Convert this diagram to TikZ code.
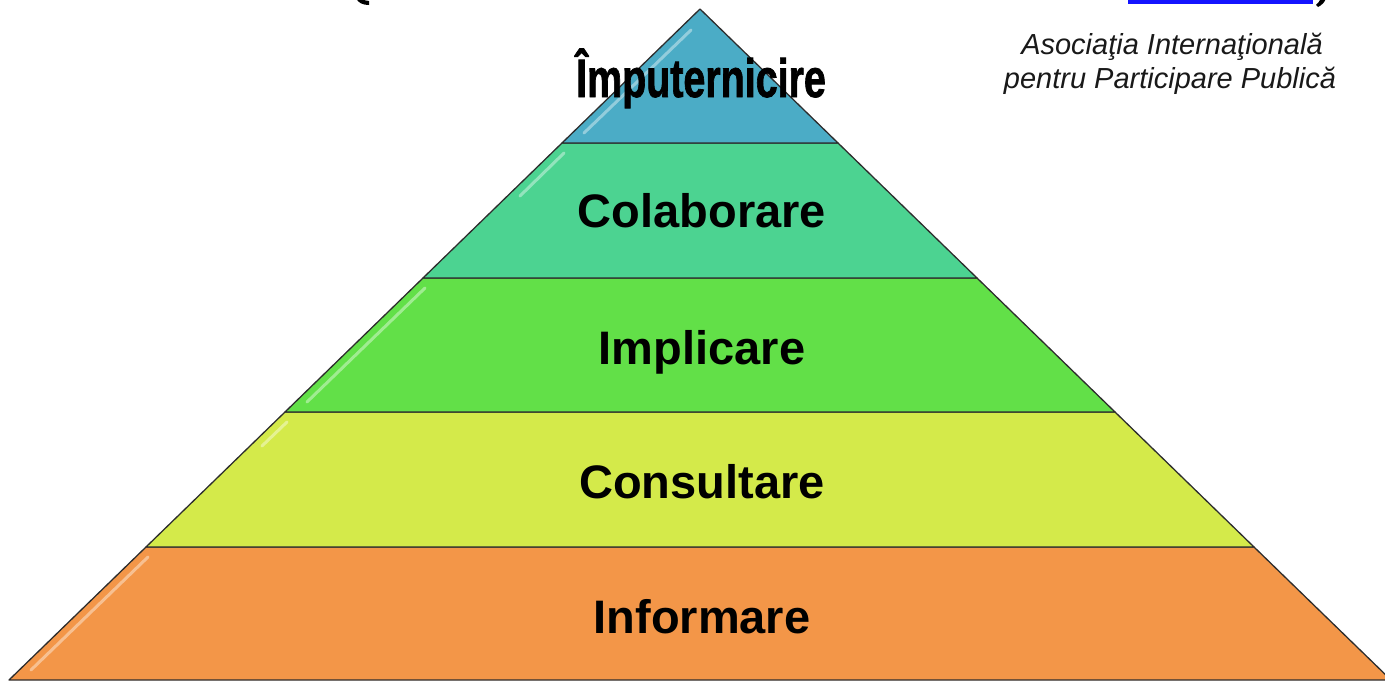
\documentclass[tikz,border=0pt]{standalone}
\usepackage{fontspec}
\setmainfont{Liberation Sans}
\newfontfamily\heavyfont{Liberation Sans}[BoldFeatures={FakeBold=1.6}]
\definecolor{cTop}{RGB}{75,172,198}
\definecolor{cCol}{RGB}{76,211,145}
\definecolor{cImp}{RGB}{98,224,72}
\definecolor{cCon}{RGB}{212,234,74}
\definecolor{cInf}{RGB}{243,150,72}
\definecolor{edgec}{RGB}{45,45,45}
\definecolor{linkblue}{RGB}{20,20,255}
\tikzset{
  tier/.style={draw=edgec, line width=1.3pt, line join=round},
  lbl/.style={font=\fontsize{47}{50}\selectfont\bfseries, anchor=base, inner sep=0pt},
  gloss/.style={white, opacity=0.4, line width=3pt, line cap=round},
  note/.style={font=\fontsize{29}{34}\selectfont\itshape, anchor=base, inner sep=0pt, text=black!90},
  fragmark/.style={fill=black},
}
\begin{document}
\begin{tikzpicture}[x=1pt,y=-1pt]
\useasboundingbox (0,0) rectangle (1385,683);
\clip (0,0) rectangle (1385,683);
% cut-off fragments of a title above the picture
\fill[linkblue] (1128,0) rectangle (1313,3.5);
\fill[fragmark] (356,-2) .. controls (358,3) and (363,5) .. (369,5) -- (369,1) .. controls (366,1) and (363,0) .. (362,-2) -- cycle;
\fill[fragmark] (1318,7) .. controls (1322,5) and (1325,2) .. (1326,-2) -- (1321,-2) .. controls (1320,1) and (1318,3) .. (1316,5) -- cycle;
% tiers
\path[tier, fill=cInf] (146,547) -- (1254,547) -- (1391,680) -- (9,680) -- cycle;
\path[tier, fill=cCon] (285,412) -- (1115,412) -- (1254,547) -- (146,547) -- cycle;
\path[tier, fill=cImp] (423,278) -- (977,278) -- (1115,412) -- (285,412) -- cycle;
\path[tier, fill=cCol] (562,143) -- (838,143) -- (977,278) -- (423,278) -- cycle;
\path[tier, fill=cTop] (700,9) -- (838,143) -- (562,143) -- cycle;
% glossy highlights
\draw[gloss] (691,30) -- (584,133);
\draw[gloss] (564,153) -- (520,196);
\draw[gloss] (425,288) -- (307,402);
\draw[gloss] (287,422) -- (262,446);
\draw[gloss] (148,557) -- (31,670);
% labels
\node[lbl] (imp) at (701,97) {\scalebox{0.73}[1]{\heavyfont\fontsize{54}{58}\selectfont\bfseries Împuternicire}};
\node[lbl] (col) at (702,227) {Colaborare};
\node[lbl] (impl) at (702,364) {Implicare};
\node[lbl] (cons) at (702,498) {Consultare};
\node[lbl] (inf) at (702,633) {Informare};
% note
\node[note] (n1) at (1172,54) {Asociaţia Internaţională};
\node[note] (n2) at (1170,88) {pentru Participare Publică};
\end{tikzpicture}
\end{document}
